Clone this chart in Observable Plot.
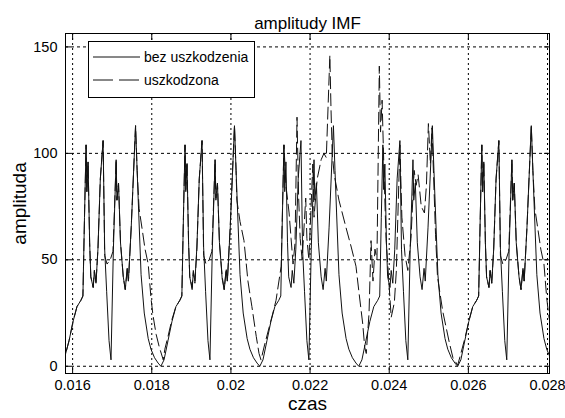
<!DOCTYPE html>
<html><head><meta charset="utf-8">
<script src="https://cdn.jsdelivr.net/npm/d3@7"></script>
<script src="https://cdn.jsdelivr.net/npm/@observablehq/plot@0.6"></script>
<style>
body{margin:0;background:#fff;}
#wrap{position:relative;width:565px;height:418px;overflow:hidden;}
#legend{position:absolute;left:88px;top:41px;width:165px;height:55px;border:1px solid #000;background:#fff;}
#legend text{font-family:"Liberation Sans",Arial,sans-serif;font-size:14px;fill:#000;}
</style></head><body><div id="wrap"></div>
<script>
const title = "amplitudy IMF";
const xLabel = "czas";
const yLabel = "amplituda";
const seriesNames = ["bez uszkodzenia", "uszkodzona"];
const xTicks = [0.016, 0.018, 0.020, 0.022, 0.024, 0.026, 0.028];
const yTicks = [0, 50, 100, 150];

// time in ms, amplitude
const tSolidMs = [
15.73,15.81,15.91,16.01,16.11,16.21,16.26,16.30,16.34,16.36,16.39,16.43,16.46,16.52,16.55,16.59,16.64,16.70,16.77,16.81,16.86,16.92,16.97,17.03,17.10,17.12,17.16,17.21,17.28,17.33,17.38,17.41,17.48,17.59,17.63,17.67,17.73,17.81,17.91,17.98,18.07,18.16,
18.23,18.31,18.41,18.51,18.61,18.71,18.76,18.80,18.84,18.86,18.89,18.93,18.96,19.02,19.05,19.09,19.14,19.20,19.27,19.31,19.36,19.42,19.47,19.53,19.60,19.62,19.66,19.71,19.78,19.83,19.88,19.91,19.98,20.09,20.13,20.17,20.23,20.31,20.41,20.48,20.57,20.66,
20.73,20.81,20.91,21.01,21.11,21.21,21.26,21.30,21.34,21.36,21.39,21.43,21.46,21.52,21.55,21.59,21.64,21.70,21.77,21.81,21.86,21.92,21.97,22.03,22.10,22.12,22.16,22.21,22.28,22.33,22.38,22.41,22.48,22.59,22.63,22.67,22.73,22.81,22.91,22.98,23.07,23.16,
23.23,23.31,23.41,23.51,23.61,23.71,23.76,23.80,23.84,23.86,23.89,23.93,23.96,24.02,24.05,24.09,24.14,24.20,24.27,24.31,24.36,24.42,24.47,24.53,24.60,24.62,24.66,24.71,24.78,24.83,24.88,24.91,24.98,25.09,25.13,25.17,25.23,25.31,25.41,25.48,25.57,25.66,
25.73,25.81,25.91,26.01,26.11,26.21,26.26,26.30,26.34,26.36,26.39,26.43,26.46,26.52,26.55,26.59,26.64,26.70,26.77,26.81,26.86,26.92,26.97,27.03,27.10,27.12,27.16,27.21,27.28,27.33,27.38,27.41,27.48,27.59,27.63,27.67,27.73,27.81,27.91,27.98,28.07,28.16
];
const ySolid = [
0,5,12,21,28,31,33,70,104,82,96,58,42,37,45,39,55,88,106,55,35,12,3,55,97,78,86,58,42,36,46,40,65,113,92,72,43,25,13,8,4,1.5,
0,3,12,21,28,31,33,70,104,83,95,58,42,36,44,40,56,88,106,56,35,12,3,55,97,79,86,58,41,36,45,40,64,113,92,72,43,25,13,8,4,1.5,
0,3,12,21,28,31,33,70,104,82,96,58,42,37,45,39,55,88,106,55,35,12,3,55,97,78,86,58,42,36,46,40,65,113,92,72,43,25,13,8,4,1.5,
0,3,12,21,28,31,33,70,104,83,95,58,42,37,45,39,55,88,106,55,35,12,3,55,97,78,86,58,42,36,46,40,65,113,92,72,43,25,13,8,4,1.5,
0,3,12,21,28,31,33,70,104,82,96,58,42,37,45,39,55,88,106,55,35,12,3,55,97,78,86,58,42,36,46,40,65,113,92,72,43,25,13,8,4,1.5
];
const tDamagedMs = [
15.73,15.81,15.91,16.01,16.11,16.21,16.26,16.30,16.34,16.36,16.39,16.43,16.46,16.52,16.55,16.59,16.64,16.70,16.77,16.81,16.87,16.95,17.02,17.10,17.12,17.16,17.21,17.28,17.33,17.38,17.41,17.48,17.59,17.63,17.68,17.76,17.83,17.91,17.98,18.03,18.11,18.19,18.29,
18.33,18.41,18.51,18.61,18.71,18.76,18.80,18.84,18.86,18.89,18.93,18.96,19.02,19.05,19.09,19.14,19.20,19.27,19.31,19.37,19.45,19.52,19.60,19.62,19.66,19.71,19.78,19.83,19.88,19.91,19.98,20.09,20.13,20.15,20.23,20.33,20.43,20.53,20.64,20.71,20.76,
20.85,21.06,21.14,21.27,21.34,21.39,21.47,21.52,21.57,21.62,21.67,21.71,21.75,21.80,21.89,21.92,21.97,22.07,22.10,22.18,22.28,22.35,22.41,22.50,22.53,22.56,22.61,22.73,22.91,23.04,23.16,23.24,23.33,23.38,23.42,
23.49,23.54,23.59,23.64,23.69,23.75,23.78,23.82,23.87,23.92,23.99,24.05,24.13,24.18,24.27,24.32,24.40,24.47,24.55,24.63,24.68,24.73,24.81,24.89,24.94,24.99,25.04,25.08,25.12,25.17,25.22,25.35,25.52,25.61,25.73,
25.81,25.91,26.01,26.11,26.21,26.26,26.30,26.34,26.36,26.39,26.43,26.46,26.52,26.55,26.59,26.64,26.70,26.77,26.81,26.87,26.95,27.02,27.10,27.12,27.16,27.21,27.28,27.33,27.38,27.41,27.48,27.59,27.63,27.68,27.76,27.83,27.91,27.98,28.03,28.11
];
const yDamaged = [
0,5,12,21,28,31,33,70,104,82,96,58,42,37,45,39,55,88,106,52,48,50,54,97,78,86,58,42,36,46,40,65,113,92,74,64,55,48,32,24,15,9,3,
8,14,22,28,31,33,70,104,82,96,58,42,37,45,39,55,88,106,52,48,50,54,97,78,86,58,42,36,46,40,65,113,92,78,68,59,40,28,14,6,3,
10,25,31,47,104,85,72,60,48,58,117,80,60,50,79,60,50,95,70,88,97,100,98,146,120,100,90,78,65,56,47,34,20,9,6,
25,59,40,55,50,141,110,125,90,60,40,23,30,45,104,70,52,45,60,92,85,90,75,72,85,114,95,112,90,62,42,26,11,4,0.5,
6,13,21,28,31,33,70,104,82,96,58,42,37,45,39,55,88,106,52,48,50,54,97,78,86,58,42,36,46,40,65,113,92,74,64,55,48,32,24,15
];

const solid = tSolidMs.map((t, i) => ({t: t / 1000, y: ySolid[i]}));
const damaged = tDamagedMs.map((t, i) => ({t: t / 1000, y: yDamaged[i]}));
const fmt = d => String(+d.toFixed(3));
const font = "'Liberation Sans',Arial,sans-serif";

const chart = Plot.plot({
  width: 565, height: 418,
  marginLeft: 65, marginRight: 16, marginTop: 33, marginBottom: 45,
  style: {fontFamily: font, fontSize: "16px", color: "#000", background: "#fff"},
  x: {domain: [0.01582, 0.02805]},
  y: {domain: [-3.4, 156.3]},
  marks: [
    Plot.gridX(xTicks, {stroke: "#000", strokeOpacity: 1, strokeDasharray: "2,3"}),
    Plot.gridY(yTicks, {stroke: "#000", strokeOpacity: 1, strokeDasharray: "3,3"}),
    Plot.line(solid, {x: "t", y: "y", stroke: "#111", strokeWidth: 1, clip: true}),
    Plot.line(damaged, {x: "t", y: "y", stroke: "#111", strokeWidth: 1, strokeDasharray: "12,5", clip: true}),
    Plot.axisX(xTicks, {anchor: "bottom", tickSize: -6, tickFormat: () => "", label: null}),
    Plot.axisX(xTicks, {anchor: "top", tickSize: -6, tickFormat: () => "", label: null}),
    Plot.axisY(yTicks, {anchor: "left", tickSize: -6, tickFormat: () => "", label: null}),
    Plot.axisY(yTicks, {anchor: "right", tickSize: -6, tickFormat: () => "", label: null}),
    Plot.axisX(xTicks, {anchor: "bottom", tickSize: 0, tickPadding: 6, tickFormat: fmt, label: null, fontSize: 14.5}),
    Plot.axisY(yTicks, {anchor: "left", tickSize: 0, tickPadding: 8, label: null, fontSize: 14.5}),
    Plot.frame({stroke: "#000"}),
    Plot.text([title], {frameAnchor: "top", dy: -17, fontSize: 17}),
    Plot.text([xLabel], {frameAnchor: "bottom", dy: 36, fontSize: 19}),
    Plot.text([yLabel], {frameAnchor: "left", dx: -46, rotate: -90, textAnchor: "middle", fontSize: 19})
  ]
});
const wrap = document.getElementById("wrap");
wrap.appendChild(chart);

const legend = document.createElement("div");
legend.id = "legend";
const ns = "http://www.w3.org/2000/svg";
const lsvg = document.createElementNS(ns, "svg");
lsvg.setAttribute("width", 165); lsvg.setAttribute("height", 55);
const dashes = [null, "20,6"];
seriesNames.forEach((name, i) => {
  const yy = 15 + i * 23;
  const ln = document.createElementNS(ns, "line");
  ln.setAttribute("x1", 4); ln.setAttribute("x2", 51);
  ln.setAttribute("y1", yy); ln.setAttribute("y2", yy);
  ln.setAttribute("stroke", "#111");
  if (dashes[i]) ln.setAttribute("stroke-dasharray", dashes[i]);
  lsvg.appendChild(ln);
  const tx = document.createElementNS(ns, "text");
  tx.setAttribute("x", 55); tx.setAttribute("y", yy + 5);
  tx.textContent = name;
  lsvg.appendChild(tx);
});
legend.appendChild(lsvg);
wrap.appendChild(legend);
</script>
</body></html>
